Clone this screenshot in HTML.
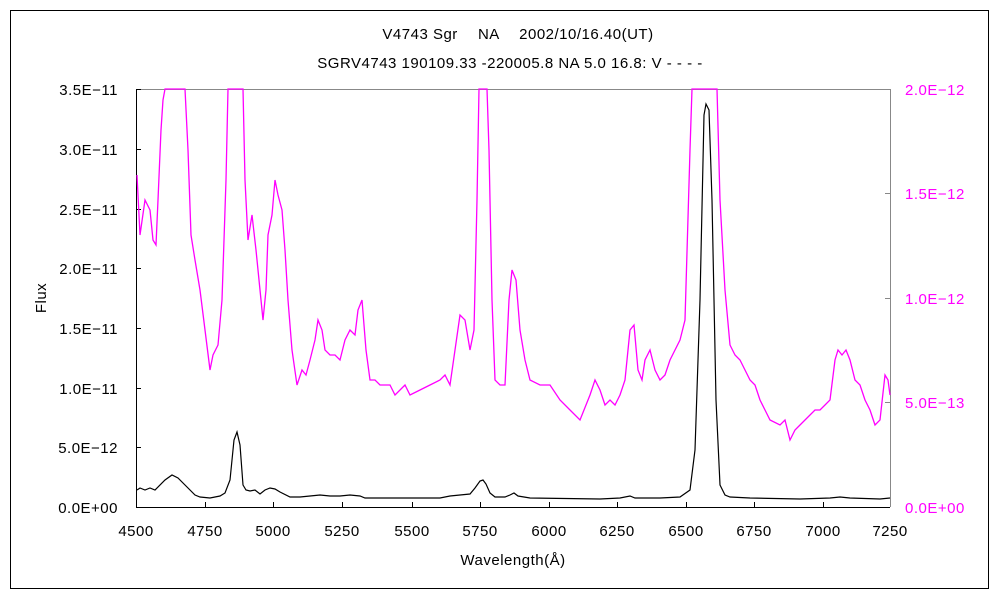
<!DOCTYPE html>
<html><head><meta charset="utf-8"><style>
body{margin:0;background:#fff;}
svg text{font-family:"Liberation Sans","Noto Sans CJK JP",sans-serif;font-size:15px;letter-spacing:0.5px;}
</style></head><body>
<svg width="1000" height="600" xmlns="http://www.w3.org/2000/svg">
<rect x="0" y="0" width="1000" height="600" fill="#fff"/>
<rect x="10.5" y="10.5" width="978" height="578" fill="none" stroke="#000"/>
<text x="518" y="39" text-anchor="middle">V4743 Sgr　 NA　 2002/10/16.40(UT)</text>
<text x="510" y="68" text-anchor="middle">SGRV4743 190109.33 -220005.8 NA 5.0 16.8: V - - - -</text>
<line x1="136" y1="89.5" x2="890" y2="89.5" stroke="#888"/>
<line x1="890.5" y1="89" x2="890.5" y2="507" stroke="#888"/>
<line x1="136.5" y1="89" x2="136.5" y2="507" stroke="#000"/>
<line x1="136" y1="507.5" x2="890" y2="507.5" stroke="#000"/>
<g stroke="#000">
<line x1="136" y1="89.5" x2="141" y2="89.5"/><line x1="136" y1="149.5" x2="141" y2="149.5"/><line x1="136" y1="209.5" x2="141" y2="209.5"/><line x1="136" y1="268.5" x2="141" y2="268.5"/><line x1="136" y1="328.5" x2="141" y2="328.5"/><line x1="136" y1="388.5" x2="141" y2="388.5"/><line x1="136" y1="447.5" x2="141" y2="447.5"/>
<line x1="205.5" y1="502" x2="205.5" y2="507"/><line x1="273.5" y1="502" x2="273.5" y2="507"/><line x1="342.5" y1="502" x2="342.5" y2="507"/><line x1="412.5" y1="502" x2="412.5" y2="507"/><line x1="480.5" y1="502" x2="480.5" y2="507"/><line x1="549.5" y1="502" x2="549.5" y2="507"/><line x1="617.5" y1="502" x2="617.5" y2="507"/><line x1="686.5" y1="502" x2="686.5" y2="507"/><line x1="754.5" y1="502" x2="754.5" y2="507"/><line x1="823.5" y1="502" x2="823.5" y2="507"/>
</g>
<g stroke="#888"><line x1="885" y1="193.5" x2="890" y2="193.5"/><line x1="885" y1="298.5" x2="890" y2="298.5"/><line x1="885" y1="402.5" x2="890" y2="402.5"/></g>
<g text-anchor="end">
<text x="118" y="95">3.5E−11</text><text x="118" y="155">3.0E−11</text><text x="118" y="215">2.5E−11</text><text x="118" y="274">2.0E−11</text><text x="118" y="334">1.5E−11</text><text x="118" y="394">1.0E−11</text><text x="118" y="453">5.0E−12</text><text x="118" y="513">0.0E+00</text>
</g>
<g fill="#f0f">
<text x="905" y="95">2.0E−12</text><text x="905" y="199">1.5E−12</text><text x="905" y="304">1.0E−12</text><text x="905" y="408">5.0E−13</text><text x="905" y="513">0.0E+00</text>
</g>
<g text-anchor="middle">
<text x="136" y="536">4500</text><text x="205" y="536">4750</text><text x="273" y="536">5000</text><text x="342" y="536">5250</text><text x="412" y="536">5500</text><text x="480" y="536">5750</text><text x="549" y="536">6000</text><text x="617" y="536">6250</text><text x="686" y="536">6500</text><text x="754" y="536">6750</text><text x="823" y="536">7000</text><text x="890" y="536">7250</text>
<text x="513" y="565">Wavelength(Å)</text>
</g>
<text x="46" y="298" text-anchor="middle" transform="rotate(-90 46 298)">Flux</text>
<polyline fill="none" stroke="#f0f" stroke-width="1.3" points="137,175 140,235 145,200 150,210 153,240 156,245 158,200 161,130 163,100 165,89 183,89 185,89 188,150 191,235 195,260 200,290 205,330 210,370 213,355 218,345 222,300 226,180 228,89 243,89 245,180 248,240 252,215 256,250 260,290 263,320 266,290 268,235 272,215 275,180 278,195 282,210 285,250 288,300 292,350 297,385 302,370 306,375 310,360 315,340 318,320 322,330 325,350 330,355 335,355 340,360 345,340 350,330 355,335 358,310 362,300 366,350 370,380 375,380 380,385 390,385 395,395 400,390 405,385 410,395 420,390 430,385 440,380 445,375 450,385 455,350 460,315 465,320 470,350 474,330 477,200 479,89 487,89 489,150 492,300 495,380 500,385 505,385 509,300 512,270 516,280 520,330 525,360 530,380 540,385 550,385 560,400 570,410 580,420 590,395 595,380 600,390 605,405 610,400 615,405 620,395 625,380 630,330 634,325 638,370 642,380 645,360 650,350 655,370 660,380 665,375 670,360 680,340 685,320 690,150 692,89 717,89 720,200 725,290 730,345 735,355 740,360 745,370 750,380 755,385 760,400 765,410 770,420 780,425 785,420 790,440 795,430 800,425 805,420 810,415 815,410 820,410 825,405 830,400 835,360 838,350 842,355 846,350 850,360 855,380 860,385 865,400 870,410 875,425 880,420 885,375 888,380 890,395"/>
<polyline fill="none" stroke="#000" stroke-width="1.2" points="137,490 140,488 145,490 150,488 155,490 165,480 172,475 178,478 185,485 190,490 195,495 200,497 210,498 220,496 225,493 230,480 234,440 237,432 240,445 243,485 246,490 250,491 255,490 260,494 265,490 270,488 275,489 280,492 290,497 300,497 310,496 320,495 330,496 340,496 350,495 360,496 365,498 400,498 440,498 450,496 460,495 470,494 475,488 480,481 483,480 486,484 490,493 495,497 505,497 510,495 514,493 518,496 530,498 600,499 620,498 630,496 635,498 660,498 680,497 690,490 695,450 700,300 704,115 706,104 709,110 712,200 716,400 720,485 725,495 730,497 750,498 800,499 830,498 840,497 850,498 880,499 890,498"/>
</svg>
</body></html>
